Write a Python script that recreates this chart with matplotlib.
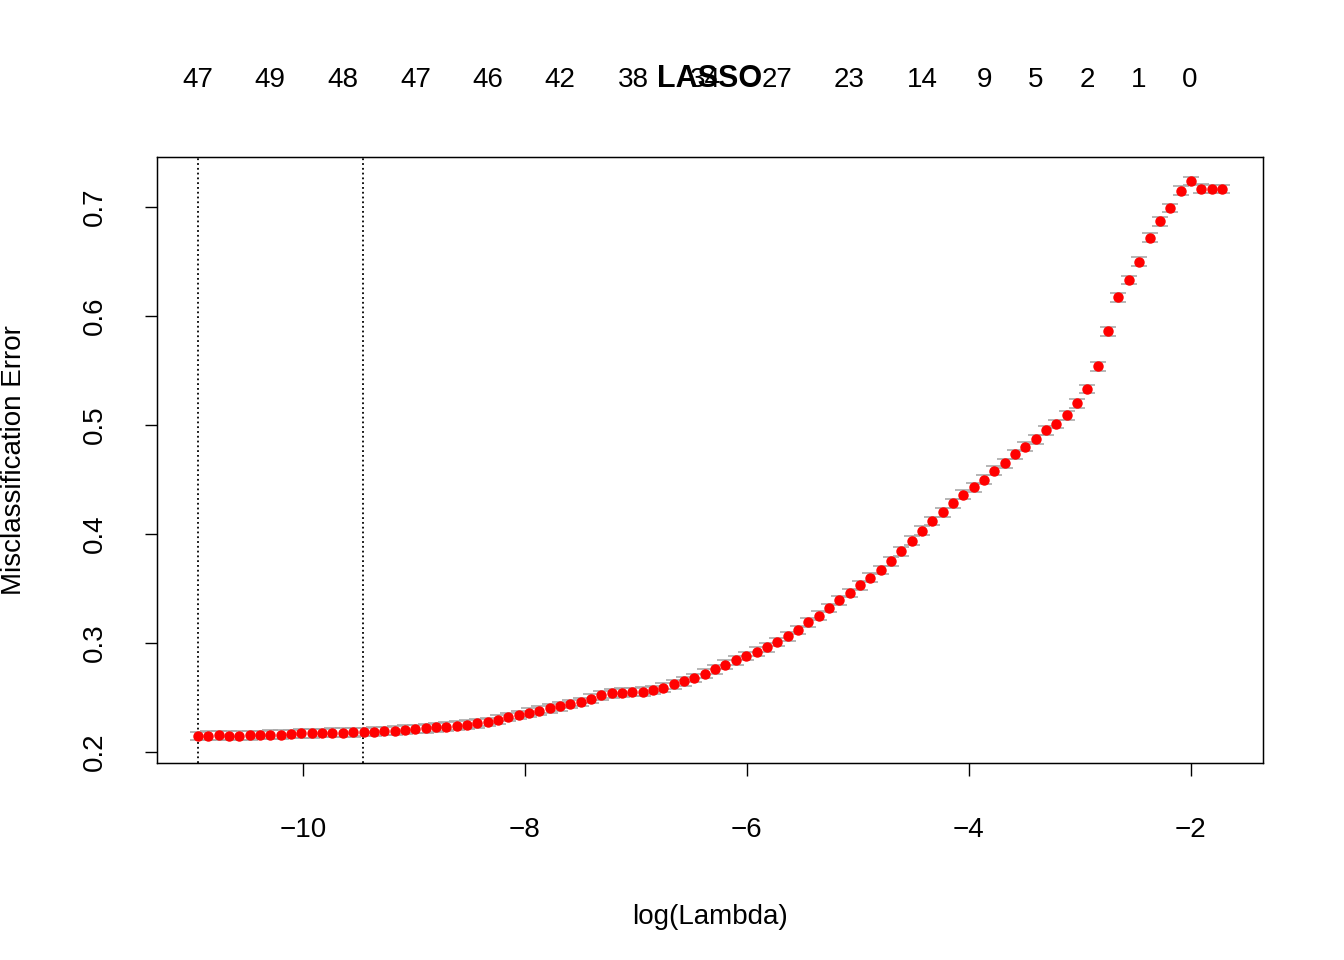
import numpy as np
import matplotlib
matplotlib.use("Agg")
import matplotlib.pyplot as plt

plt.rcParams['font.family'] = ['Liberation Sans', 'DejaVu Sans']

# log(lambda) grid of glmnet path (evenly spaced in log scale)
loglam_start, loglam_end, n_lambda = -10.946, -1.72, 100
cvm = [0.2147,0.2150,0.2152,0.2150,0.2150,0.2152,0.2155,0.2158,0.2160,0.2165,
       0.2170,0.2172,0.2174,0.2176,0.2178,0.2180,0.2184,0.2188,0.2192,0.2197,
       0.2205,0.2210,0.2218,0.2225,0.2233,0.2242,0.2250,0.2262,0.2275,0.2295,
       0.2320,0.2340,0.2360,0.2380,0.2400,0.2420,0.2440,0.2460,0.2490,0.2520,
       0.2540,0.2545,0.2550,0.2555,0.2570,0.2590,0.2620,0.2650,0.2680,0.2720,
       0.2760,0.2800,0.2840,0.2880,0.2920,0.2960,0.3010,0.3060,0.3120,0.3190,
       0.3250,0.3320,0.3390,0.3460,0.3530,0.3600,0.3670,0.3750,0.3840,0.3940,
       0.4030,0.4120,0.4200,0.4280,0.4360,0.4430,0.4500,0.4580,0.4650,0.4730,
       0.4800,0.4870,0.4950,0.5010,0.5090,0.5200,0.5330,0.5540,0.5860,0.6170,
       0.6330,0.6500,0.6720,0.6870,0.6990,0.7150,0.7240,0.7170,0.7165,0.7165]
se = [0.004] * 100
top_pos = [-10.946,-10.297,-9.640,-8.982,-8.333,-7.685,-7.027,-6.378,-5.730,
           -5.081,-4.423,-3.856,-3.396,-2.937,-2.468,-2.009]
top_labels = ['47','49','48','47','46','42','38','34','27','23','14','9','5','2','1','0']
lambda_min, lambda_1se = -10.946, -9.459

x = np.linspace(loglam_start, loglam_end, n_lambda)
fig = plt.figure(figsize=(13.44, 9.6), dpi=100)
ax = fig.add_axes([0.1168, 0.2052, 0.8229, 0.63125])
ax.errorbar(x, cvm, yerr=se, fmt='none', ecolor='darkgrey', elinewidth=1.2, capsize=6, capthick=1.2)
ax.plot(x, cvm, 'o', color='red', markersize=6.5, zorder=3)
ax.axvline(lambda_min, color='black', linestyle=':', linewidth=1.3)
ax.axvline(lambda_1se, color='black', linestyle=':', linewidth=1.3)
ax.set_xlim(-11.316, -1.35)
ax.set_ylim(0.1899, 0.7459)
ax.set_xticks([-10, -8, -6, -4, -2])
ax.set_yticks([0.2, 0.3, 0.4, 0.5, 0.6, 0.7])
ax.set_yticklabels(['0.2','0.3','0.4','0.5','0.6','0.7'], rotation=90, va='center')
ax.tick_params(labelsize=20, length=9, width=1)
ax.tick_params(axis='x', pad=30)
ax.tick_params(axis='y', pad=26)
ax.set_xlabel('log(Lambda)', fontsize=20, labelpad=44)
ax.set_ylabel('Misclassification Error', fontsize=20, labelpad=40)
for s in ax.spines.values():
    s.set_linewidth(1)
ax2 = ax.twiny()
ax2.set_xlim(ax.get_xlim())
ax2.set_xticks(top_pos)
ax2.set_xticklabels(top_labels)
ax2.tick_params(length=0, labelsize=20, pad=46)
fig.text(0.528, 0.918, 'LASSO', fontsize=22, fontweight='bold', ha='center', va='center')
fig.savefig('out.png', dpi=100)
